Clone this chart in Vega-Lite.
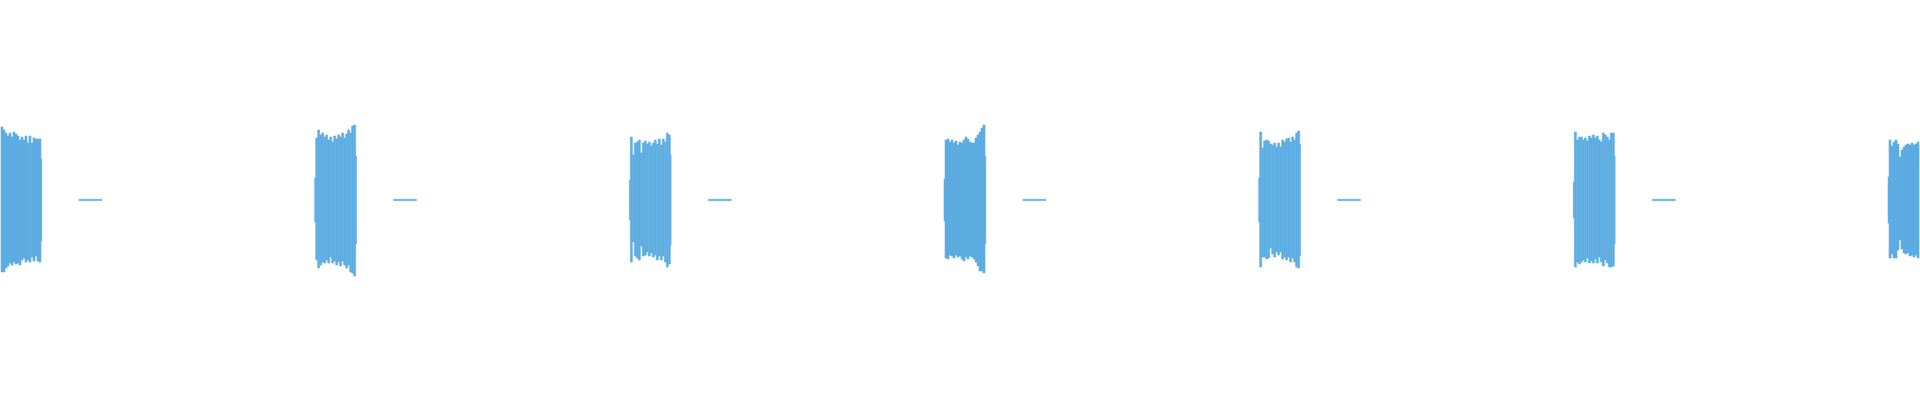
{
  "$schema": "https://vega.github.io/schema/vega-lite/v6.json",
  "description": "Waveform: seven bursts of signal with short quiet tails.",
  "width": 1920,
  "height": 400,
  "padding": 0,
  "autosize": {"type": "fit", "contains": "padding"},
  "background": "#ffffff",
  "data": {
    "values": [
      {"x": 0, "x2": 2, "hi": 73, "lo": -72},
      {"x": 2, "x2": 4, "hi": 70, "lo": -72},
      {"x": 4, "x2": 6, "hi": 67, "lo": -68},
      {"x": 6, "x2": 8, "hi": 64, "lo": -66},
      {"x": 8, "x2": 10, "hi": 67, "lo": -63},
      {"x": 10, "x2": 12, "hi": 63, "lo": -65},
      {"x": 12, "x2": 14, "hi": 68, "lo": -62},
      {"x": 14, "x2": 16, "hi": 66, "lo": -64},
      {"x": 16, "x2": 18, "hi": 64, "lo": -63},
      {"x": 18, "x2": 20, "hi": 60, "lo": -65},
      {"x": 20, "x2": 22, "hi": 63, "lo": -60},
      {"x": 22, "x2": 24, "hi": 60, "lo": -58},
      {"x": 24, "x2": 26, "hi": 64, "lo": -62},
      {"x": 26, "x2": 28, "hi": 57, "lo": -60},
      {"x": 28, "x2": 30, "hi": 64, "lo": -62},
      {"x": 30, "x2": 32, "hi": 57, "lo": -57},
      {"x": 32, "x2": 34, "hi": 62, "lo": -61},
      {"x": 34, "x2": 36, "hi": 61, "lo": -56},
      {"x": 36, "x2": 38, "hi": 61, "lo": -61},
      {"x": 38, "x2": 40, "hi": 61, "lo": -62},
      {"x": 40, "x2": 40.8, "hi": 41, "lo": -41},
      {"x": 78, "x2": 101, "hi": 0.7, "lo": -0.6},

      {"x": 314, "x2": 315, "hi": 22, "lo": -22},
      {"x": 315, "x2": 317, "hi": 62, "lo": -60},
      {"x": 317, "x2": 319, "hi": 70, "lo": -68},
      {"x": 319, "x2": 321, "hi": 65, "lo": -65},
      {"x": 321, "x2": 323, "hi": 67, "lo": -62},
      {"x": 323, "x2": 325, "hi": 63, "lo": -63},
      {"x": 325, "x2": 327, "hi": 65, "lo": -60},
      {"x": 327, "x2": 329, "hi": 60, "lo": -63},
      {"x": 329, "x2": 331, "hi": 63, "lo": -57},
      {"x": 331, "x2": 333, "hi": 58, "lo": -63},
      {"x": 333, "x2": 335, "hi": 64, "lo": -61},
      {"x": 335, "x2": 337, "hi": 61, "lo": -65},
      {"x": 337, "x2": 339, "hi": 65, "lo": -62},
      {"x": 339, "x2": 341, "hi": 63, "lo": -66},
      {"x": 341, "x2": 343, "hi": 67, "lo": -61},
      {"x": 343, "x2": 345, "hi": 62, "lo": -65},
      {"x": 345, "x2": 347, "hi": 66, "lo": -68},
      {"x": 347, "x2": 349, "hi": 70, "lo": -65},
      {"x": 349, "x2": 351, "hi": 67, "lo": -72},
      {"x": 351, "x2": 353, "hi": 74, "lo": -73},
      {"x": 353, "x2": 355, "hi": 75, "lo": -76},
      {"x": 355, "x2": 355.8, "hi": 44, "lo": -44},
      {"x": 393, "x2": 416, "hi": 0.7, "lo": -0.6},

      {"x": 629, "x2": 630, "hi": 20, "lo": -20},
      {"x": 630, "x2": 632, "hi": 63, "lo": -62},
      {"x": 632, "x2": 634, "hi": 45, "lo": -42},
      {"x": 634, "x2": 636, "hi": 57, "lo": -56},
      {"x": 636, "x2": 638, "hi": 58, "lo": -58},
      {"x": 638, "x2": 640, "hi": 60, "lo": -60},
      {"x": 640, "x2": 642, "hi": 47, "lo": -46},
      {"x": 642, "x2": 644, "hi": 57, "lo": -56},
      {"x": 644, "x2": 646, "hi": 59, "lo": -55},
      {"x": 646, "x2": 648, "hi": 56, "lo": -52},
      {"x": 648, "x2": 650, "hi": 58, "lo": -56},
      {"x": 650, "x2": 652, "hi": 54, "lo": -53},
      {"x": 652, "x2": 654, "hi": 57, "lo": -57},
      {"x": 654, "x2": 656, "hi": 60, "lo": -55},
      {"x": 656, "x2": 658, "hi": 56, "lo": -60},
      {"x": 658, "x2": 660, "hi": 61, "lo": -56},
      {"x": 660, "x2": 662, "hi": 55, "lo": -60},
      {"x": 662, "x2": 664, "hi": 61, "lo": -56},
      {"x": 664, "x2": 666, "hi": 58, "lo": -62},
      {"x": 666, "x2": 668, "hi": 67, "lo": -67},
      {"x": 668, "x2": 670, "hi": 65, "lo": -64},
      {"x": 670, "x2": 670.8, "hi": 45, "lo": -45},
      {"x": 708, "x2": 731, "hi": 0.7, "lo": -0.6},

      {"x": 944, "x2": 945, "hi": 21, "lo": -21},
      {"x": 945, "x2": 947, "hi": 60, "lo": -58},
      {"x": 947, "x2": 949, "hi": 61, "lo": -59},
      {"x": 949, "x2": 951, "hi": 58, "lo": -55},
      {"x": 951, "x2": 953, "hi": 60, "lo": -56},
      {"x": 953, "x2": 955, "hi": 57, "lo": -58},
      {"x": 955, "x2": 957, "hi": 59, "lo": -55},
      {"x": 957, "x2": 959, "hi": 55, "lo": -57},
      {"x": 959, "x2": 961, "hi": 58, "lo": -56},
      {"x": 961, "x2": 963, "hi": 57, "lo": -59},
      {"x": 963, "x2": 965, "hi": 60, "lo": -61},
      {"x": 965, "x2": 967, "hi": 63, "lo": -57},
      {"x": 967, "x2": 969, "hi": 61, "lo": -59},
      {"x": 969, "x2": 971, "hi": 58, "lo": -56},
      {"x": 971, "x2": 973, "hi": 57, "lo": -57},
      {"x": 973, "x2": 975, "hi": 57, "lo": -59},
      {"x": 975, "x2": 977, "hi": 62, "lo": -62},
      {"x": 977, "x2": 979, "hi": 65, "lo": -66},
      {"x": 979, "x2": 981, "hi": 68, "lo": -71},
      {"x": 981, "x2": 983, "hi": 72, "lo": -71},
      {"x": 983, "x2": 985, "hi": 75, "lo": -73},
      {"x": 985, "x2": 985.8, "hi": 44, "lo": -44},
      {"x": 1023, "x2": 1046, "hi": 0.7, "lo": -0.6},

      {"x": 1259, "x2": 1260, "hi": 22, "lo": -22},
      {"x": 1260, "x2": 1262, "hi": 68, "lo": -67},
      {"x": 1262, "x2": 1264, "hi": 52, "lo": -57},
      {"x": 1264, "x2": 1266, "hi": 59, "lo": -57},
      {"x": 1266, "x2": 1268, "hi": 60, "lo": -59},
      {"x": 1268, "x2": 1270, "hi": 59, "lo": -58},
      {"x": 1270, "x2": 1272, "hi": 56, "lo": -48},
      {"x": 1272, "x2": 1274, "hi": 55, "lo": -54},
      {"x": 1274, "x2": 1276, "hi": 57, "lo": -57},
      {"x": 1276, "x2": 1278, "hi": 53, "lo": -52},
      {"x": 1278, "x2": 1280, "hi": 57, "lo": -55},
      {"x": 1280, "x2": 1282, "hi": 53, "lo": -52},
      {"x": 1282, "x2": 1284, "hi": 60, "lo": -59},
      {"x": 1284, "x2": 1286, "hi": 58, "lo": -57},
      {"x": 1286, "x2": 1288, "hi": 61, "lo": -60},
      {"x": 1288, "x2": 1290, "hi": 62, "lo": -57},
      {"x": 1290, "x2": 1292, "hi": 58, "lo": -62},
      {"x": 1292, "x2": 1294, "hi": 63, "lo": -58},
      {"x": 1294, "x2": 1296, "hi": 60, "lo": -62},
      {"x": 1296, "x2": 1298, "hi": 67, "lo": -67},
      {"x": 1298, "x2": 1300, "hi": 69, "lo": -68},
      {"x": 1300, "x2": 1300.8, "hi": 56, "lo": -56},
      {"x": 1338, "x2": 1361, "hi": 0.7, "lo": -0.6},

      {"x": 1574, "x2": 1575, "hi": 18, "lo": -18},
      {"x": 1575, "x2": 1577, "hi": 68, "lo": -67},
      {"x": 1577, "x2": 1579, "hi": 60, "lo": -62},
      {"x": 1579, "x2": 1581, "hi": 63, "lo": -64},
      {"x": 1581, "x2": 1583, "hi": 63, "lo": -62},
      {"x": 1583, "x2": 1585, "hi": 60, "lo": -60},
      {"x": 1585, "x2": 1587, "hi": 62, "lo": -62},
      {"x": 1587, "x2": 1589, "hi": 59, "lo": -58},
      {"x": 1589, "x2": 1591, "hi": 64, "lo": -63},
      {"x": 1591, "x2": 1593, "hi": 62, "lo": -61},
      {"x": 1593, "x2": 1595, "hi": 65, "lo": -63},
      {"x": 1595, "x2": 1597, "hi": 62, "lo": -59},
      {"x": 1597, "x2": 1599, "hi": 64, "lo": -63},
      {"x": 1599, "x2": 1601, "hi": 60, "lo": -57},
      {"x": 1601, "x2": 1603, "hi": 58, "lo": -62},
      {"x": 1603, "x2": 1605, "hi": 67, "lo": -66},
      {"x": 1605, "x2": 1607, "hi": 65, "lo": -60},
      {"x": 1607, "x2": 1609, "hi": 63, "lo": -63},
      {"x": 1609, "x2": 1611, "hi": 60, "lo": -67},
      {"x": 1611, "x2": 1613, "hi": 67, "lo": -67},
      {"x": 1613, "x2": 1615, "hi": 67, "lo": -66},
      {"x": 1615, "x2": 1615.8, "hi": 44, "lo": -44},
      {"x": 1653, "x2": 1676, "hi": 0.7, "lo": -0.6},

      {"x": 1889, "x2": 1890, "hi": 23, "lo": -23},
      {"x": 1890, "x2": 1892, "hi": 60, "lo": -58},
      {"x": 1892, "x2": 1894, "hi": 54, "lo": -54},
      {"x": 1894, "x2": 1896, "hi": 58, "lo": -58},
      {"x": 1896, "x2": 1898, "hi": 60, "lo": -58},
      {"x": 1898, "x2": 1900, "hi": 56, "lo": -50},
      {"x": 1900, "x2": 1902, "hi": 43, "lo": -40},
      {"x": 1902, "x2": 1904, "hi": 50, "lo": -49},
      {"x": 1904, "x2": 1906, "hi": 53, "lo": -53},
      {"x": 1906, "x2": 1908, "hi": 55, "lo": -54},
      {"x": 1908, "x2": 1910, "hi": 56, "lo": -53},
      {"x": 1910, "x2": 1912, "hi": 55, "lo": -56},
      {"x": 1912, "x2": 1914, "hi": 57, "lo": -55},
      {"x": 1914, "x2": 1916, "hi": 55, "lo": -57},
      {"x": 1916, "x2": 1918, "hi": 56, "lo": -55},
      {"x": 1918, "x2": 1920, "hi": 58, "lo": -58}
    ]
  },
  "mark": {
    "type": "bar",
    "color": "#5dade2",
    "stroke": "#5dade2",
    "strokeWidth": 0.6,
    "cornerRadius": 0
  },
  "encoding": {
    "x": {
      "field": "x",
      "type": "quantitative",
      "scale": {"domain": [0, 1920], "nice": false, "zero": false},
      "axis": null
    },
    "x2": {"field": "x2"},
    "y": {
      "field": "hi",
      "type": "quantitative",
      "scale": {"domain": [-200, 200], "nice": false, "zero": false},
      "axis": null
    },
    "y2": {"field": "lo"}
  },
  "config": {
    "view": {"stroke": null}
  }
}
